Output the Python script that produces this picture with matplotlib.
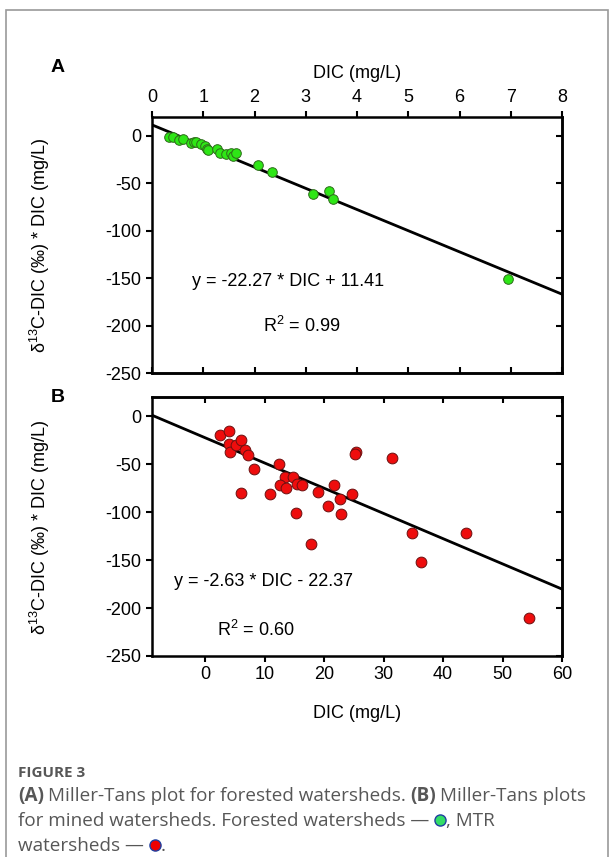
import matplotlib.pyplot as plt
from matplotlib.lines import Line2D
from matplotlib.patches import Rectangle
import numpy as np

plt.rcParams['font.family'] = ['Liberation Sans', 'DejaVu Sans']
plt.rcParams['mathtext.fontset'] = 'custom'
plt.rcParams['mathtext.rm'] = 'Liberation Sans'
plt.rcParams['mathtext.it'] = 'Liberation Sans:italic'
plt.rcParams['axes.unicode_minus'] = False

# (A) forested watersheds
dic_a = [0.34, 0.40, 0.53, 0.60, 0.77, 0.81, 0.86, 0.96, 1.03, 1.07, 1.09, 1.26,
         1.33, 1.44, 1.54, 1.58, 1.63, 2.07, 2.35, 3.14, 3.46, 3.53, 6.95]
val_a = [-1.4, -1.4, -4.9, -3.1, -7.7, -6.6, -7.0, -8.4, -10.5, -13.6, -15.4, -13.9,
         -18.1, -18.8, -18.1, -21.7, -18.1, -30.4, -38.4, -61.8, -58.3, -66.7, -151.0]
slope_a, icpt_a, r2_a = -22.27, 11.41, 0.99

# (B) MTR watersheds
dic_b = [2.4, 3.9, 4.0, 4.1, 5.2, 6.0, 6.6, 7.2, 8.1, 12.4, 13.3, 14.8, 25.4, 25.2,
         31.4, 5.9, 10.8, 12.5, 13.6, 15.4, 16.3, 15.2, 18.9, 21.6, 20.6, 22.6, 22.8,
         24.7, 17.8, 34.8, 36.3, 43.9, 54.5]
val_b = [-19.1, -15.2, -28.5, -37.2, -29.9, -24.9, -34.8, -40.0, -55.0, -49.8, -63.7,
         -62.7, -36.9, -39.3, -43.8, -79.5, -80.9, -71.5, -74.9, -70.8, -71.8, -100.4,
         -78.4, -71.1, -93.5, -86.2, -102.2, -81.2, -133.6, -121.4, -151.8, -121.4, -210.5]
slope_b, icpt_b, r2_b = -2.63, -22.37, 0.60

W, H = 614, 857
fig = plt.figure(figsize=(W / 100, H / 100), dpi=100)


def box(x0, y0, x1, y1):
    return [x0 / W, 1 - y1 / H, (x1 - x0) / W, (y1 - y0) / H]


ylab = 'δ$^{13}$C-DIC (‰) * DIC (mg/L)'
tick_kw = dict(labelsize=13, length=4, width=1.5, color='black')


def style(ax, top_labels):
    for s in ax.spines.values():
        s.set_linewidth(1.8)
    ax.set_ylim(-250, 20)
    ax.set_yticks([0, -50, -100, -150, -200, -250])
    ax.tick_params(axis='y', direction='out', left=True, right=False, **tick_kw)
    sec_y = ax.secondary_yaxis('right')
    sec_y.set_yticks([0, -50, -100, -150, -200, -250])
    sec_y.tick_params(direction='in', labelright=False, **tick_kw)
    sec_y.spines['right'].set_linewidth(1.8)
    if top_labels:
        ax.xaxis.tick_top()
        ax.tick_params(axis='x', direction='out', **tick_kw)
        sec_x = ax.secondary_xaxis('bottom')
    else:
        ax.tick_params(axis='x', direction='out', top=False, **tick_kw)
        sec_x = ax.secondary_xaxis('top')
    sec_x.set_xticks(ax.get_xticks())
    sec_x.tick_params(direction='in', labelbottom=False, labeltop=False, **tick_kw)
    for s in sec_x.spines.values():
        s.set_linewidth(1.8)


# panel A
axA = fig.add_axes(box(152, 116.7, 562, 373.3))
axA.set_xlim(0, 8)
axA.set_xticks(range(0, 9))
style(axA, True)
xl = np.array(axA.get_xlim())
axA.plot(xl, slope_a * xl + icpt_a, color='black', lw=2, zorder=2)
axA.scatter(dic_a, val_a, s=48, color='#2ee616', edgecolors='#2d6b1a', linewidths=0.7, zorder=3)
axA.text(0.79, -153, f'y = {slope_a} * DIC + {icpt_a}', fontsize=13, va='center')
axA.text(2.92, -200, f'R$^2$ = {r2_a}', fontsize=13, va='center', ha='center')

# panel B
axB = fig.add_axes(box(152, 397.3, 562, 656))
axB.set_xlim(-9, 60)
axB.set_xticks(range(0, 61, 10))
style(axB, False)
xl = np.array(axB.get_xlim())
axB.plot(xl, slope_b * xl + icpt_b, color='black', lw=2, zorder=2)
axB.scatter(dic_b, val_b, s=60, color='#ee0d0d', edgecolors='#6b1010', linewidths=0.7, zorder=3)
axB.text(-5.3, -172, f'y = {slope_b} * DIC - {abs(icpt_b)}', fontsize=13, va='center')
axB.text(2.0, -222.7, f'R$^2$ = {r2_b:.2f}', fontsize=13, va='center')

# labels
fig.text(357 / W, 1 - 73 / H, 'DIC (mg/L)', fontsize=13, ha='center', va='center')
fig.text(357 / W, 1 - 713 / H, 'DIC (mg/L)', fontsize=13, ha='center', va='center')
fig.text(40 / W, 1 - 245 / H, ylab, fontsize=13, rotation=90, ha='center', va='center')
fig.text(40 / W, 1 - 527 / H, ylab, fontsize=13, rotation=90, ha='center', va='center')
fig.text(58 / W, 1 - 68 / H, 'A', fontsize=14, fontweight='bold', ha='center', va='center')
fig.text(58 / W, 1 - 397 / H, 'B', fontsize=14, fontweight='bold', ha='center', va='center')

# frame and caption
fig.add_artist(Rectangle((6 / W, -0.02), 602 / W, 1 - 10 / H + 0.02, transform=fig.transFigure,
                         fill=False, edgecolor='#9a9a9a', linewidth=1.2))

cap_font = ['Open Sans', 'DejaVu Sans']
grey = '#575757'
r = fig.canvas.get_renderer()


def put(x, ybase, txt, bold=False, size=13.6):
    t = fig.text(x / W, 1 - ybase / H, txt, fontsize=size, color=grey, family=cap_font,
                 fontweight='bold' if bold else 'normal', va='baseline')
    return t.get_window_extent(renderer=r).x1


def dot(x, ybase, col):
    fig.add_artist(Line2D([(x + 6) / W], [1 - (ybase - 6) / H], marker='o', ms=8, mfc=col,
                          mec='#1f3fa0', mew=1, transform=fig.transFigure))
    return x + 12


put(18, 777, 'FIGURE 3', bold=True, size=11)
x = put(18, 801, '(A)', bold=True)
x = put(x + 4, 801, 'Miller-Tans plot for forested watersheds.')
x = put(x + 4, 801, '(B)', bold=True)
put(x + 4, 801, 'Miller-Tans plots')
x = put(18, 826, 'for mined watersheds. Forested watersheds —')
x = dot(x + 5, 826, '#33dd66')
put(x, 826, ', MTR')
x = put(18, 851, 'watersheds —')
x = dot(x + 5, 851, '#ee0000')
put(x, 851, '.')

fig.savefig('out.png', dpi=100)
plt.close()
